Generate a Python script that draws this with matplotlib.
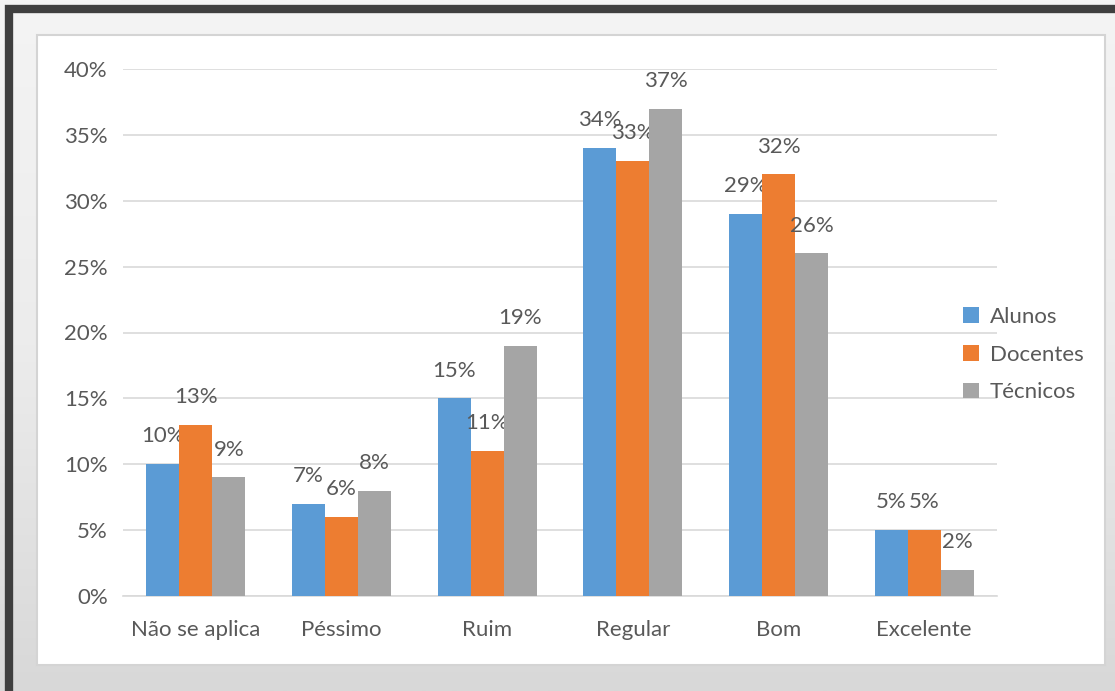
import numpy as np
import matplotlib.pyplot as plt
from matplotlib.patches import Rectangle
from matplotlib.colors import LinearSegmentedColormap

categorias = ["Não se aplica", "Péssimo", "Ruim", "Regular", "Bom", "Excelente"]
alunos = [10, 7, 15, 34, 29, 5]
docentes = [13, 6, 11, 33, 32, 5]
tecnicos = [9, 8, 19, 37, 26, 2]
series = ["Alunos", "Docentes", "Técnicos"]
cores = ["#5B9BD5", "#ED7D31", "#A5A5A5"]

plt.rcParams['font.family'] = ['Lato', 'DejaVu Sans']
texto = "#595959"
fs = 16

W, H = 1115, 691
fig = plt.figure(figsize=(W / 100, H / 100), dpi=100)

# fundo cinza claro com gradiente
bg = fig.add_axes([0, 0, 1, 1], zorder=-10)
cmap = LinearSegmentedColormap.from_list("fundo", ["#f4f4f4", "#ececec", "#d8d8d8"])
grad = np.linspace(0, 1, 256).reshape(-1, 1)
bg.imshow(grad, aspect='auto', cmap=cmap, extent=[0, 1, 0, 1], origin='upper')
bg.set_xlim(0, 1)
bg.set_ylim(0, 1)
bg.axis('off')

def px(x, y, w, h):
    return (x / W, 1 - (y + h) / H), w / W, h / H

# moldura escura
(x0, y0), w, h = px(9, 9, 1200, 800)
fig.patches.append(Rectangle((x0, y0), w, h, transform=fig.transFigure,
                             fill=False, edgecolor="#3f3f3f", linewidth=6, zorder=-5))
# area branca do grafico
(x0, y0), w, h = px(37, 35, 1068, 630)
fig.patches.append(Rectangle((x0, y0), w, h, transform=fig.transFigure,
                             facecolor="white", edgecolor="#d4d4d4", linewidth=1.5, zorder=-4))

ax = fig.add_axes([123 / W, 1 - 596 / H, (997 - 123) / W, (596 - 69) / H])
ax.set_facecolor('none')

x = np.arange(len(categorias))
largura = 0.227
for i, (dados, nome, cor) in enumerate(zip([alunos, docentes, tecnicos], series, cores)):
    pos = x + (i - 1) * largura
    ax.bar(pos, dados, largura, color=cor, label=nome, zorder=3)
    for xp, v in zip(pos, dados):
        ax.annotate(f"{v}%", (xp, v), xytext=(0, 20), textcoords='offset points',
                    ha='center', va='center', fontsize=fs, color=texto)

ax.set_xlim(-0.5, len(categorias) - 0.5)
ax.set_ylim(0, 40)
ax.set_yticks(range(0, 41, 5))
ax.set_yticklabels([f"{t}%" for t in range(0, 41, 5)])
ax.set_xticks(x)
ax.set_xticklabels(categorias)
ax.grid(axis='y', color="#d9d9d9", linewidth=1.2, zorder=0)
for s in ['top', 'right', 'left']:
    ax.spines[s].set_visible(False)
ax.spines['bottom'].set_color("#d9d9d9")
ax.spines['bottom'].set_linewidth(1.2)
ax.tick_params(axis='both', length=0, labelsize=fs, colors=texto)
ax.tick_params(axis='y', pad=11)
ax.tick_params(axis='x', pad=17)

ax.legend(loc='center left', bbox_to_anchor=(0.951, 0.458), frameon=False,
          fontsize=fs, labelcolor=texto, handlelength=0.7, handleheight=0.7,
          handletextpad=0.5, labelspacing=0.8, borderaxespad=0)

fig.savefig("out.png", dpi=100)
